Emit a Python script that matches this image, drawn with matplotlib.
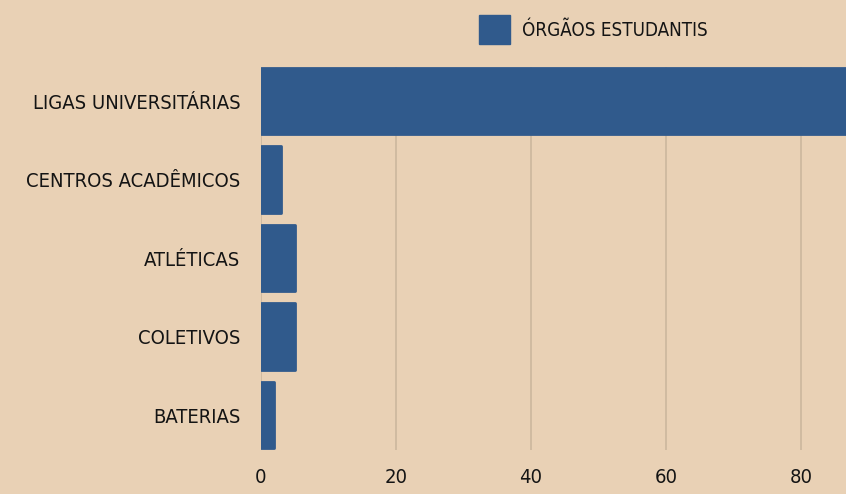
#!/usr/bin/env python

"""
    plot.py:
        - Órgãos estudantis, horizontal bar chart
"""

import matplotlib
matplotlib.use("Agg")
import matplotlib.pyplot as plt
import matplotlib.patches as mpatches

################################################################################
# Data
################################################################################
categories = ["LIGAS UNIVERSITÁRIAS", "CENTROS ACADÊMICOS", "ATLÉTICAS", "COLETIVOS", "BATERIAS"]
values     = [90, 3, 5, 5, 2]
series     = "ÓRGÃOS ESTUDANTIS"
xticks     = [0, 20, 40, 60, 80]

BG   = "#E9D1B5"
BAR  = "#305A8C"
GRID = "#CBB79D"
TXT  = "#141414"

plt.rcParams["font.family"] = ["DejaVu Sans"]
plt.rcParams["font.stretch"] = "condensed"

################################################################################
# FIGURE
################################################################################
fig = plt.figure(figsize=(8.46, 4.94), dpi=100, facecolor=BG)
ax  = fig.add_axes([0.3085, 0.089, 0.6915, 0.7755])
ax.set_facecolor(BG)

ypos = list(range(len(categories)))[::-1]
ax.barh(ypos, values, height=0.85, color=BAR, edgecolor=BAR, linewidth=2,
        joinstyle="round", zorder=3)

ax.set_xlim(0, 86.67)
ax.set_ylim(-0.445, 4.435)
ax.set_xticks(xticks)
ax.set_yticks(ypos)
ax.set_yticklabels(categories)

ax.grid(axis="x", color=GRID, linewidth=1.2, zorder=0)
ax.grid(axis="y", visible=False)
for s in ax.spines.values():
    s.set_visible(False)

ax.tick_params(axis="both", length=0, labelsize=14.5, colors=TXT)
ax.tick_params(axis="y", pad=15)
ax.tick_params(axis="x", pad=13)

################################################################################
# Legend
################################################################################
handles = [mpatches.Patch(color=BAR, label=series)]
fig.legend(handles=handles, loc="center left", bbox_to_anchor=(0.566, 0.94),
           frameon=False, fontsize=13.5, handlelength=1.65, handleheight=2.05,
           handletextpad=0.65, labelcolor=TXT, borderpad=0, borderaxespad=0)

plt.savefig("out.png", dpi=100, facecolor=BG)
plt.close()
